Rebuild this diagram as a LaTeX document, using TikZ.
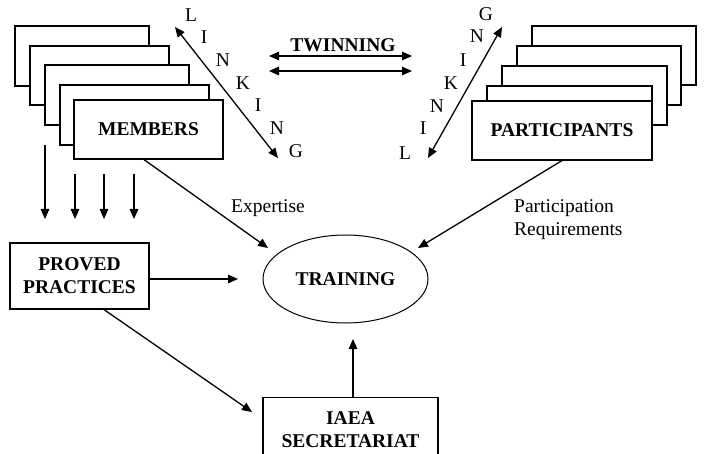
\documentclass[tikz,border=0pt]{standalone}
\usepackage{fontspec}
\setmainfont{Liberation Serif}
\usetikzlibrary{shapes.geometric,arrows.meta}
\begin{document}
\begin{tikzpicture}[x=1pt,y=-1pt,
  every node/.style={font=\fontsize{19.5}{23}\selectfont},
  box/.style={draw,line width=1.2pt,fill=white,inner sep=0pt,font=\fontsize{19.5}{23}\selectfont\bfseries,align=center},
  arr/.style={line width=1.3pt,-{Triangle[length=10pt,width=8.5pt]}},
  darr/.style={line width=1.3pt,{Triangle[length=10pt,width=8.5pt]}-{Triangle[length=10pt,width=8.5pt]}},
  letter/.style={inner sep=0pt}]
\useasboundingbox (0,0) rectangle (704,454);
\clip (0,0) rectangle (704,454);

% MEMBERS stack
\node[box,minimum width=134,minimum height=60] (m1) at (82,56) {};
\node[box,minimum width=139,minimum height=59] (m2) at (99.5,75.5) {};
\node[box,minimum width=144,minimum height=60] (m3) at (117,95) {};
\node[box,minimum width=149,minimum height=60] (m4) at (134.5,115) {};
\node[box,minimum width=149,minimum height=59] (members) at (148.5,129.5) {MEMBERS};

% PARTICIPANTS stack
\node[box,minimum width=164,minimum height=59] (p1) at (614,55.5) {};
\node[box,minimum width=164,minimum height=59] (p2) at (599,75.5) {};
\node[box,minimum width=165,minimum height=59] (p3) at (584.5,95.5) {};
\node[box,minimum width=165,minimum height=59] (p4) at (569.5,115.5) {};
\node[box,minimum width=180,minimum height=59] (participants) at (562,130.5) {PARTICIPANTS};

% other nodes
\node[box,minimum width=139,minimum height=66] (proved) at (79.5,276) {PROVED\\PRACTICES};
\node[box,ellipse,line width=1pt,minimum width=165,minimum height=88] (training) at (345.5,279) {TRAINING};
\node[box,anchor=north,minimum width=175,inner ysep=14pt] (iaea) at (350.5,397) {IAEA\\SECRETARIAT};

% labels
\node[font=\fontsize{19.5}{23}\selectfont\bfseries] (twin) at (343,45) {TWINNING};
\node (expertise) at (268,208) {Expertise};
\node[anchor=west,align=left,inner sep=0pt] (partreq) at (514,219.5) {Participation\\Requirements};

% LINKING letters left
\node[letter] (la1) at (191,15) {L};
\node[letter] (la2) at (204,37) {I};
\node[letter] (la3) at (223,60) {N};
\node[letter] (la4) at (243,83) {K};
\node[letter] (la5) at (258,105) {I};
\node[letter] (la6) at (277,128) {N};
\node[letter] (la7) at (296,151) {G};
% LINKING letters right
\node[letter] (lb1) at (405,153) {L};
\node[letter] (lb2) at (423,128) {I};
\node[letter] (lb3) at (437,106) {N};
\node[letter] (lb4) at (451,83) {K};
\node[letter] (lb5) at (463,60) {I};
\node[letter] (lb6) at (477,36) {N};
\node[letter] (lb7) at (486,14) {G};

% free end coordinates
\coordinate (lkAs) at (175,27);
\coordinate (lkAe) at (278,158);
\coordinate (lkBs) at (428,158);
\coordinate (lkBe) at (502,27);
\coordinate (twAl) at (269,56);
\coordinate (twAr) at (412,56);
\coordinate (twBl) at (269,71);
\coordinate (twBr) at (412,71);
\coordinate (d1s) at (45,145);
\coordinate (d1e) at (45,219);
\coordinate (d2s) at (75,174);
\coordinate (d2e) at (75,219);
\coordinate (d3s) at (104,174);
\coordinate (d3e) at (104,219);
\coordinate (d4s) at (134,174);
\coordinate (d4e) at (134,219);
\coordinate (expTip) at (268,248);
\coordinate (partTip) at (418,248);
\coordinate (provTip) at (238,279);
\coordinate (secTip) at (252,412);
\coordinate (trainTip) at (353,339);

% connectors
\draw[darr] (lkAs) -- (lkAe);
\draw[darr] (lkBs) -- (lkBe);
\draw[darr] (twAl) -- (twAr);
\draw[darr] (twBl) -- (twBr);
\draw[arr] (d1s) -- (d1e);
\draw[arr] (d2s) -- (d2e);
\draw[arr] (d3s) -- (d3e);
\draw[arr] (d4s) -- (d4e);
\draw[arr] ([xshift=-4.5pt]members.south) -- (expTip);
\draw[arr] (participants.south) -- (partTip);
\draw[arr] ([yshift=-3pt]proved.east) -- (provTip);
\draw[arr] ([xshift=24.5pt]proved.south) -- (secTip);
\draw[arr] ([xshift=2.5pt]iaea.north) -- (trainTip);
\end{tikzpicture}
\end{document}
